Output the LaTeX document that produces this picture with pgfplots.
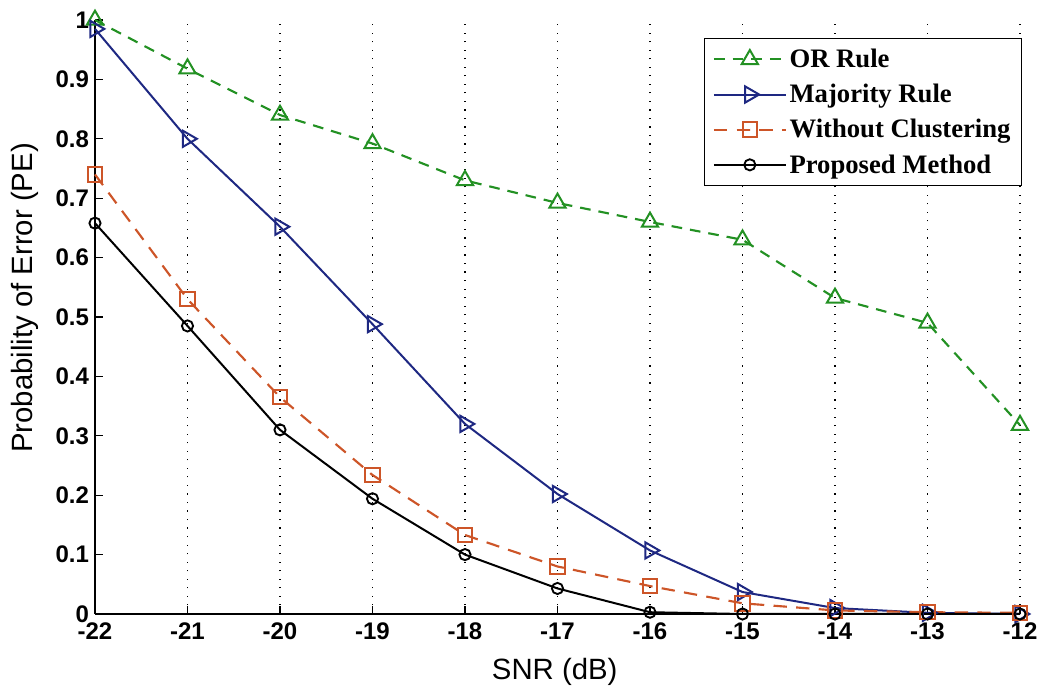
\documentclass[border=0pt]{standalone}
\usepackage{pgfplots}
\pgfplotsset{compat=1.18}
\usepackage{fontspec}
\setmainfont{Liberation Serif}
\newfontfamily\arial{Liberation Sans}
\definecolor{orgreen}{RGB}{35,145,35}
\definecolor{majblue}{RGB}{30,40,130}
\definecolor{wcorange}{RGB}{205,85,40}
\begin{document}
\begin{tikzpicture}[x=1pt,y=1pt]
\path[use as bounding box] (-71.25pt,-56.25pt) rectangle (711pt,460.5pt);
\begin{axis}[
  at={(0,0)}, anchor=south west,
  scale only axis, width=693.75pt, height=445.5pt,
  xmin=-22, xmax=-12, ymin=0, ymax=1,
  axis x line*=bottom, axis y line*=left,
  axis line style={black, line width=0.9pt},
  xtick={-22,-21,...,-12},
  xticklabels={-22,-21,-20,-19,-18,-17,-16,-15,-14,-13,-12},
  ytick={0,0.1,...,1.0},
  yticklabels={0,0.1,0.2,0.3,0.4,0.5,0.6,0.7,0.8,0.9,1},
  tick align=inside, major tick length=6pt,
  tick style={black, line width=0.8pt},
  xmajorgrids,
  grid style={black, line width=0.9pt, dash pattern=on 0.9pt off 5.5pt},
  /pgf/number format/assume math mode=true,
  ticklabel style={font=\arial\bfseries\fontsize{18}{18}\selectfont},
  xticklabel style={yshift=-3pt},
  yticklabel style={xshift=-1pt},
  xlabel={\arial\fontsize{22}{22}\selectfont SNR (dB)},
  ylabel={\arial\fontsize{22}{22}\selectfont Probability of Error (PE)},
  xlabel style={at={(axis description cs:0.497,-0.0976)}, anchor=center},
  ylabel style={at={(axis description cs:-0.0757,0.532)}, anchor=center},
  clip=false,
  legend style={at={(1.002,0.970)}, anchor=north east, draw=black, line width=0.9pt,
    font=\bfseries\fontsize{20}{20}\selectfont, row sep=7pt,
    inner xsep=6pt, inner ysep=6pt},
  legend cell align=left,
  legend image code/.code={
    \draw[mark repeat=2,mark phase=2] plot coordinates {(0pt,0pt) (27pt,0pt) (54pt,0pt)};
  },
]
\addplot[color=orgreen, line width=1.6pt, dash pattern=on 8pt off 6pt, mark=triangle, mark size=7pt, mark options={solid, fill=white, line width=1.5pt}]
  coordinates {(-22,1.0) (-21,0.918) (-20,0.84) (-19,0.792) (-18,0.73) (-17,0.692) (-16,0.66) (-15,0.63) (-14,0.532) (-13,0.49) (-12,0.318)};
\addlegendentry{OR Rule}
\addplot[color=majblue, line width=1.5pt, mark=triangle, mark size=7pt, mark options={solid, rotate=-90, fill=white, line width=1.5pt}]
  coordinates {(-22,0.985) (-21,0.80) (-20,0.652) (-19,0.488) (-18,0.32) (-17,0.202) (-16,0.107) (-15,0.037) (-14,0.01) (-13,0.002) (-12,0.0)};
\addlegendentry{Majority Rule}
\addplot[color=wcorange, line width=1.6pt, dash pattern=on 10pt off 7pt, mark=square, mark size=5.4pt, mark options={solid, fill=white, line width=1.5pt}]
  coordinates {(-22,0.74) (-21,0.53) (-20,0.365) (-19,0.234) (-18,0.133) (-17,0.08) (-16,0.047) (-15,0.018) (-14,0.006) (-13,0.003) (-12,0.002)};
\addlegendentry{Without Clustering}
\addplot[color=black, line width=1.5pt, mark=o, mark size=4.2pt, mark options={solid, fill=white, line width=1.4pt}]
  coordinates {(-22,0.658) (-21,0.485) (-20,0.31) (-19,0.194) (-18,0.10) (-17,0.043) (-16,0.003) (-15,0.0) (-14,0.0) (-13,0.0) (-12,0.0)};
\addlegendentry{Proposed Method}
\end{axis}
\end{tikzpicture}
\end{document}
